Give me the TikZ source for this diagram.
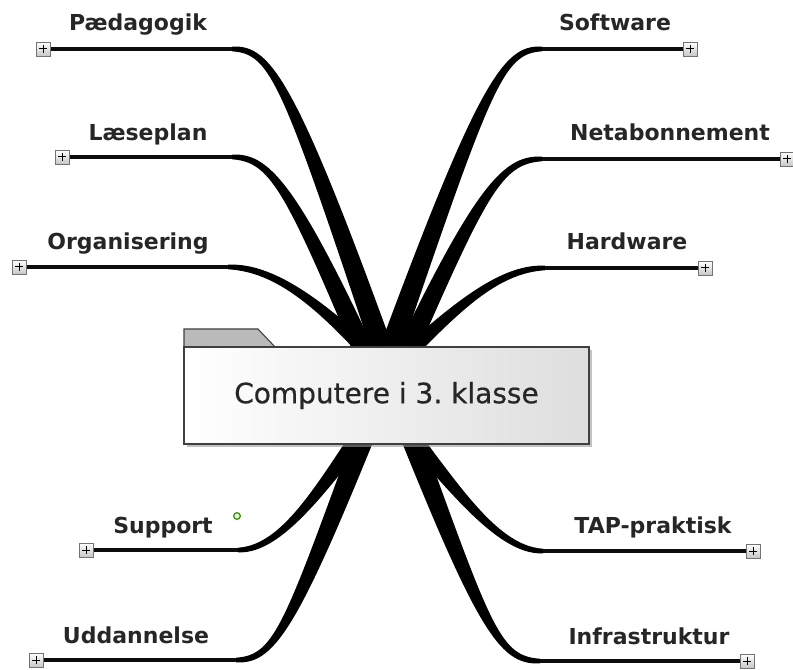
\documentclass[tikz,border=0pt]{standalone}
\usepackage{fontspec}
\setmainfont{DejaVu Sans}
\usetikzlibrary{calc,shadows}
\frenchspacing
\newcommand\mmbranch[6]{%
  \fill[branchfill] ($(#1)+({(#5)*12},0)$) .. controls ($(#2)+({(#5)*8},0)$) and ($(#3)+(0,{(#6)*5})$) .. ($(#4)+(0,{(#6)*2.3})$)
    -- ($(#4)+(0,{-(#6)*2.3})$) .. controls ($(#3)+(0,{-(#6)*5})$) and ($(#2)+({-(#5)*8},0)$) .. ($(#1)+({-(#5)*12},0)$) -- cycle;}
\begin{document}
\begin{tikzpicture}[x=0.75pt,y=-0.75pt,
  branchfill/.style={fill=black},
  thinln/.style={line width=2.7pt, draw=black!95},
  plusbox/.style={rectangle, draw=black!55, line width=0.6pt, top color=white, bottom color=black!22,
    minimum size=10.5pt, inner sep=0pt,
    drop shadow={shadow xshift=1pt, shadow yshift=-1pt, fill=black!35, opacity=0.6},
    path picture={\draw[black, line width=0.75pt]
      ([xshift=-3pt]path picture bounding box.center) -- ([xshift=3pt]path picture bounding box.center)
      ([yshift=-3pt]path picture bounding box.center) -- ([yshift=3pt]path picture bounding box.center);}},
  lbl/.style={font=\fontsize{16.5}{18}\selectfont\bfseries, text=black!85, anchor=base, inner sep=0pt},
  centerbox/.style={rectangle, draw=black!75, line width=0.8pt, left color=white, right color=black!13,
    minimum width=303.75pt, minimum height=72.75pt, inner sep=0pt,
    drop shadow={shadow xshift=2.5pt, shadow yshift=-2.5pt, fill=black!40, opacity=0.6},
    font=\fontsize{21}{24}\selectfont\addfontfeature{FakeBold=0.5}, text=black!85},
  tabfill/.style={fill=black!27, draw=black!75, line width=0.8pt},
  dotstyle/.style={circle, draw=green!45!black!80!yellow, fill=yellow!20!green!15, line width=0.9pt, minimum size=5pt, inner sep=0pt}
]
\useasboundingbox (0,0) rectangle (793,670);

% branch geometry
\coordinate (S1) at (398,395); \coordinate (K1) at (290,82);  \coordinate (C1) at (272,49);  \coordinate (B1) at (232,49);
\coordinate (S2) at (382,392); \coordinate (K2) at (294,192); \coordinate (C2) at (272,157); \coordinate (B2) at (232,157);
\coordinate (S3) at (390,375); \coordinate (K3) at (328,310); \coordinate (C3) at (278,267); \coordinate (B3) at (228,267);
\coordinate (S4) at (374,395); \coordinate (K4) at (484,84);  \coordinate (C4) at (502,49);  \coordinate (B4) at (542,49);
\coordinate (S5) at (388,392); \coordinate (K5) at (478,195); \coordinate (C5) at (500,159); \coordinate (B5) at (542,159);
\coordinate (S6) at (386,375); \coordinate (K6) at (450,312); \coordinate (C6) at (497,268); \coordinate (B6) at (545,268);
\coordinate (S7) at (382,405); \coordinate (K7) at (328,478); \coordinate (C7) at (285,550); \coordinate (B7) at (238,550);
\coordinate (S8) at (380,395); \coordinate (K8) at (292,625); \coordinate (C8) at (276,660); \coordinate (B8) at (236,660);
\coordinate (S9) at (386,405); \coordinate (K9) at (447,478); \coordinate (C9) at (495,551); \coordinate (B9) at (543,551);
\coordinate (S10) at (395,395); \coordinate (K10) at (483,626); \coordinate (C10) at (498,661); \coordinate (B10) at (540,661);

% plus boxes
\node[plusbox] (pP) at (43,49) {};
\node[plusbox] (pL) at (62,157) {};
\node[plusbox] (pO) at (19,267) {};
\node[plusbox] (pS) at (690,49) {};
\node[plusbox] (pN) at (787,159) {};
\node[plusbox] (pH) at (705,268) {};
\node[plusbox] (pSu) at (86,550) {};
\node[plusbox] (pU) at (36,660) {};
\node[plusbox] (pT) at (753,551) {};
\node[plusbox] (pI) at (747,661) {};

% thick tapered branches
\mmbranch{S1}{K1}{C1}{B1}{1}{-1}
\mmbranch{S2}{K2}{C2}{B2}{1}{-1}
\mmbranch{S3}{K3}{C3}{B3}{1}{-1}
\mmbranch{S4}{K4}{C4}{B4}{-1}{-1}
\mmbranch{S5}{K5}{C5}{B5}{-1}{-1}
\mmbranch{S6}{K6}{C6}{B6}{-1}{-1}
\mmbranch{S7}{K7}{C7}{B7}{1}{1}
\mmbranch{S8}{K8}{C8}{B8}{1}{1}
\mmbranch{S9}{K9}{C9}{B9}{-1}{1}
\mmbranch{S10}{K10}{C10}{B10}{-1}{1}

% thin lines
\draw[thinln] (B1) -- (pP.east);
\draw[thinln] (B2) -- (pL.east);
\draw[thinln] (B3) -- (pO.east);
\draw[thinln] (B4) -- (pS.west);
\draw[thinln] (B5) -- (pN.west);
\draw[thinln] (B6) -- (pH.west);
\draw[thinln] (B7) -- (pSu.east);
\draw[thinln] (B8) -- (pU.east);
\draw[thinln] (B9) -- (pT.west);
\draw[thinln] (B10) -- (pI.west);

% redraw plus boxes on top of lines
\node[plusbox] at (pP) {};
\node[plusbox] at (pL) {};
\node[plusbox] at (pO) {};
\node[plusbox] at (pS) {};
\node[plusbox] at (pN) {};
\node[plusbox] at (pH) {};
\node[plusbox] at (pSu) {};
\node[plusbox] at (pU) {};
\node[plusbox] at (pT) {};
\node[plusbox] at (pI) {};

% central topic
\fill[tabfill] (184,348) -- (184,329) -- (258,329) -- (276,348) -- cycle;
\node[centerbox] (ctr) at (386.5,395.5) {Computere i 3. klasse};

% labels
\node[lbl] (tP) at (138,31) {Pædagogik};
\node[lbl] (tL) at (148,141) {Læseplan};
\node[lbl] (tO) at (128,250) {Organisering};
\node[lbl] (tS) at (615,31) {Software};
\node[lbl] (tN) at (670,141) {Netabonnement};
\node[lbl] (tH) at (627,250) {Hardware};
\node[lbl] (tSu) at (163,533) {Support};
\node[lbl] (tT) at (653,533) {TAP-praktisk};
\node[lbl] (tU) at (136,643) {Uddannelse};
\node[lbl] (tI) at (649,644) {Infrastruktur};

\node[dotstyle] (dot) at (237,516) {};
\end{tikzpicture}
\end{document}
